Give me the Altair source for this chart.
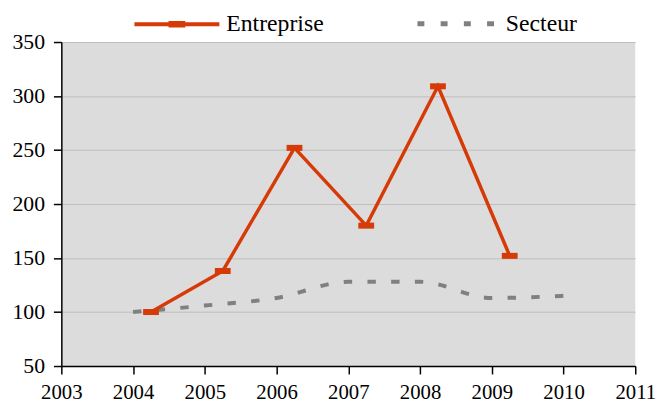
import altair as alt
import pandas as pd

# Data
ent_x = [2004.25, 2005.25, 2006.25, 2007.25, 2008.25, 2009.25]
ent_y = [100, 138, 252, 180, 309, 152]
sect_x = [2004, 2005, 2006, 2007, 2008, 2009, 2010]
sect_y = [100, 106, 113, 128, 128, 113, 115]
x_ticks = [2003, 2004, 2005, 2006, 2007, 2008, 2009, 2010, 2011]
y_ticks = [50, 100, 150, 200, 250, 300, 350]

ORANGE = "#D63A06"
GRAY = "#808080"
FONT = "Liberation Serif, Times New Roman, serif"

df_ent = pd.DataFrame({"annee": ent_x, "valeur": ent_y, "serie": "Entreprise"})
df_sect = pd.DataFrame({"annee": sect_x, "valeur": sect_y, "serie": "Secteur"})

x_enc = alt.X(
    "annee:Q",
    scale=alt.Scale(domain=[2003, 2011], nice=False, zero=False),
    axis=alt.Axis(values=x_ticks, format="d", title=None, grid=False,
                  labelFlush=False, labelOverlap=False),
)
y_enc = alt.Y(
    "valeur:Q",
    scale=alt.Scale(domain=[50, 350], nice=False, zero=False),
    axis=alt.Axis(values=y_ticks, title=None, grid=True,
                  labelFlush=False, labelOverlap=False),
)

ent = alt.Chart(df_ent).mark_line(
    strokeWidth=3.5,
    point=alt.OverlayMarkDef(
        shape="M-1,-0.38H1V0.38H-1Z", size=256, filled=True, color=ORANGE, opacity=1
    ),
).encode(
    x=x_enc,
    y=y_enc,
    color=alt.Color(
        "serie:N",
        scale=alt.Scale(domain=["Entreprise"], range=[ORANGE]),
        legend=alt.Legend(
            title=None,
            orient="none",
            legendX=72,
            legendY=-63,
            symbolType="M-1,0H1M-0.15,-0.03H0.15V0.03H-0.15Z",
            symbolSize=7396,
            symbolStrokeWidth=4,
            symbolStrokeColor=ORANGE,
            symbolOpacity=1,
            labelFont=FONT,
            labelFontSize=24,
            labelColor="black",
            labelOffset=5,
            padding=0,
        ),
    ),
)

sect = alt.Chart(df_sect).mark_line(
    strokeWidth=4, strokeDash=[8.5, 15.5], interpolate="monotone"
).encode(
    x=x_enc,
    y=y_enc,
    color=alt.Color(
        "serie:N",
        scale=alt.Scale(domain=["Secteur"], range=[GRAY]),
        legend=alt.Legend(
            title=None,
            orient="none",
            legendX=358,
            legendY=-60,
            symbolType="stroke",
            symbolSize=6084,
            symbolStrokeWidth=5,
            symbolDash=[7, 16.5],
            symbolStrokeColor=GRAY,
            symbolOpacity=1,
            labelFont=FONT,
            labelFontSize=24,
            labelColor="black",
            labelOffset=9,
            padding=0,
        ),
    ),
)

chart = (
    alt.layer(sect, ent)
    .resolve_scale(color="independent")
    .resolve_legend(color="independent")
    .properties(
        width=581,
        height=328,
        autosize=alt.AutoSizeParams(type="none"),
        padding={"left": 54, "top": 32, "right": 21, "bottom": 37},
        background="white",
    )
    .configure_view(fill="#DCDCDC", stroke=None)
    .configure_axis(
        domainColor="black",
        domainWidth=1.5,
        tickColor="black",
        tickWidth=1.5,
        tickSize=8,
        gridColor="#BEBEBE",
        gridWidth=1,
        labelFont=FONT,
        labelFontSize=22,
        labelColor="black",
    )
    .configure_axisX(labelPadding=8, labelFontSize=21)
    .configure_axisY(labelPadding=9)
)

chart.save("out.html", embed_options={"renderer": "svg", "actions": False})
